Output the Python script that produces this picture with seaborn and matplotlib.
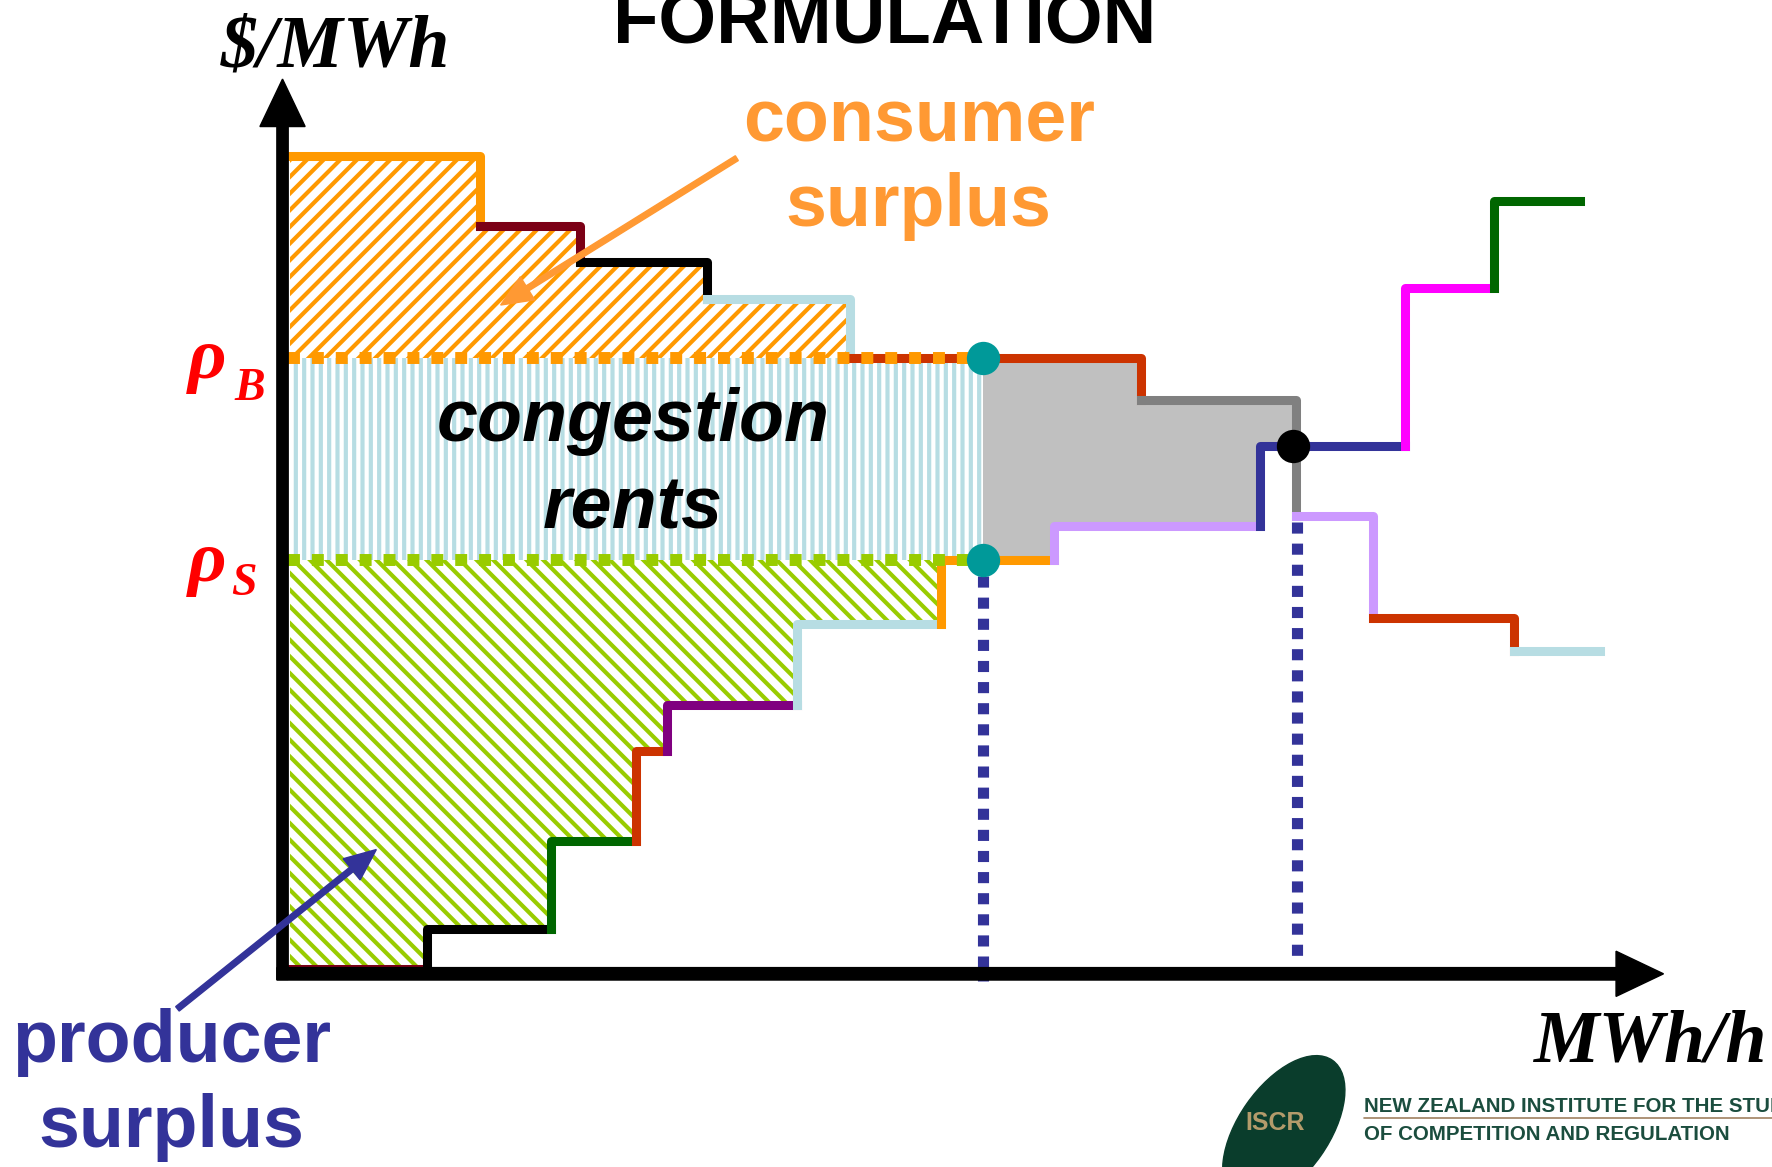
import numpy as np
import matplotlib.pyplot as plt
import seaborn as sns
from matplotlib.patches import Ellipse

sns.set_theme(style='white')
plt.rcParams['font.family'] = ['Liberation Sans', 'DejaVu Sans']
plt.rcParams['hatch.linewidth'] = 3.0

# bid stack (demand) and offer stack (supply), schematic units
demand_q = [7, 175, 263, 376, 502, 760, 897, 965, 1090, 1166]
demand_p = [724, 662, 630, 597, 545, 508, 405, 315, 286]
demand_colors = ['#FF9900', '#7B0016', 'black', '#B7DDE3', '#CC3300',
                 '#808080', '#CC99FF', '#CC3300', '#B7DDE3']

supply_q = [7, 128, 238, 313, 340, 455, 583, 683, 865, 993, 1072, 1148]
supply_p = [4, 40, 118, 197, 238, 310, 366, 396, 467, 607, 684]
supply_colors = ['#7B0016', 'black', '#006600', '#CC3300', '#800080', '#B7DDE3',
                 '#FF9900', '#CC99FF', '#333399', '#FF00FF', '#006600']

rho_b = 545      # buyer-side price
rho_s = 366      # seller-side price
q_flow = 620     # constrained quantity
q_eq = 897       # unconstrained equilibrium quantity
p_eq = 467       # unconstrained equilibrium price


def step_value(qs, ps, x):
    i = np.searchsorted(qs, x, side='right') - 1
    i = np.clip(i, 0, len(ps) - 1)
    return np.asarray(ps)[i]


fig = plt.figure(figsize=(17.72, 11.67), dpi=100)
ax = fig.add_axes([0, 0, 1, 1])
ax.set_xlim(-250, 1318)
ax.set_ylim(-171, 862)
ax.axis('off')

# consumer surplus (orange hatch)
xs = np.array([q for q in demand_q if q <= q_flow])
ys = np.maximum(step_value(demand_q, demand_p, xs), rho_b)
ax.fill_between(xs, ys, rho_b, step='post', facecolor='white',
                edgecolor='#FF9900', hatch='//', linewidth=0, zorder=1)

# congestion rents (vertical light blue hatch)
ax.fill_between([demand_q[0], q_flow], rho_s, rho_b, facecolor='white',
                edgecolor='#B7DDE3', hatch='||', linewidth=0, zorder=1)

# producer surplus (green hatch)
xs = np.array([q for q in supply_q if q <= q_flow] + [q_flow])
ys = np.minimum(step_value(supply_q, supply_p, xs), rho_s)
ax.fill_between(xs, ys, rho_s, step='post', facecolor='white',
                edgecolor='#99CC00', hatch='\\\\', linewidth=0, zorder=1)

# grey area between the curves
xs = np.array(sorted(set([q_flow, q_eq] + [q for q in demand_q + supply_q
                                            if q_flow < q < q_eq])))
ax.fill_between(xs, step_value(demand_q, demand_p, xs),
                step_value(supply_q, supply_p, xs),
                step='post', color='#C0C0C0', linewidth=0, zorder=1)

lw = 6.5
# demand steps
for i, c in enumerate(demand_colors):
    x = [demand_q[i], demand_q[i + 1]]
    y = [demand_p[i], demand_p[i]]
    if i + 1 < len(demand_p):
        x.append(demand_q[i + 1])
        y.append(demand_p[i + 1])
    sns.lineplot(x=x, y=y, sort=False, estimator=None, color=c, lw=lw, ax=ax,
                 solid_capstyle='projecting', zorder=3)

# supply steps
for i, c in enumerate(supply_colors):
    x = [supply_q[i], supply_q[i + 1]]
    y = [supply_p[i], supply_p[i]]
    if i > 0:
        x.insert(0, supply_q[i])
        y.insert(0, supply_p[i - 1])
    sns.lineplot(x=x, y=y, sort=False, estimator=None, color=c, lw=lw, ax=ax,
                 solid_capstyle='projecting', zorder=3)

# price lines
ax.plot([demand_q[0] - 2, q_flow], [rho_b, rho_b], color='#FF9900', lw=8.6,
        ls=(0, (1, 1)), dash_capstyle='butt', zorder=4)
ax.plot([demand_q[0] - 2, q_flow], [rho_s, rho_s], color='#99CC00', lw=8.6,
        ls=(0, (1, 1)), dash_capstyle='butt', zorder=4)

# quantity drop lines
ax.plot([q_flow, q_flow], [352, -6], color='#333399', lw=8,
        ls=(0, (1, 0.9)), dash_capstyle='butt', zorder=2)
ax.plot([q_eq + 1, q_eq + 1], [400, 12], color='#333399', lw=8,
        ls=(0, (1, 0.9)), dash_capstyle='butt', zorder=2)

# dots
sns.scatterplot(x=[q_flow, q_flow], y=[rho_b, rho_s], s=24 ** 2, color='#009999',
                linewidth=0, ax=ax, zorder=5)
sns.scatterplot(x=[q_eq - 3], y=[p_eq], s=24 ** 2, color='black',
                linewidth=0, ax=ax, zorder=5)

# axes with arrows
ax.arrow(0, -5, 0, 797, width=10, head_width=40, head_length=42,
         length_includes_head=True, color='black', zorder=6)
ax.arrow(-5, 0, 1227, 0, width=11, head_width=40, head_length=42,
         length_includes_head=True, color='black', zorder=6)

# annotation arrows
ax.arrow(402, 722, -209, -130, width=5, head_width=24, head_length=28,
         length_includes_head=True, color='#FF9933', zorder=6)
ax.arrow(-93, -31, 176, 141, width=5, head_width=24, head_length=28,
         length_includes_head=True, color='#333399', zorder=6)

serif = ['Liberation Serif', 'DejaVu Serif']
ax.text(533, 824, 'FORMULATION', ha='center', va='baseline', fontsize=53.5,
        fontweight='bold', color='black')
ax.text(-55, 803, '$/MWh', ha='left', va='baseline', fontsize=53,
        family=serif, fontweight='bold', style='italic', color='black')
ax.text(1107, -78, 'MWh/h', ha='left', va='baseline', fontsize=53,
        family=serif, fontweight='bold', style='italic', color='black')

ax.text(-84, 527, 'ρ', ha='left', va='baseline', fontsize=54, family=serif,
        fontweight='bold', style='italic', color='#FF0000')
ax.text(-43, 508, 'B', ha='left', va='baseline', fontsize=33, family=serif,
        fontweight='bold', style='italic', color='#FF0000')
ax.text(-84, 348, 'ρ', ha='left', va='baseline', fontsize=54, family=serif,
        fontweight='bold', style='italic', color='#FF0000')
ax.text(-45, 335, 'S', ha='left', va='baseline', fontsize=33, family=serif,
        fontweight='bold', style='italic', color='#FF0000')

ax.text(563, 737, 'consumer', ha='center', va='baseline', fontsize=53,
        fontweight='bold', color='#FF9933')
ax.text(563, 662, 'surplus', ha='center', va='baseline', fontsize=53,
        fontweight='bold', color='#FF9933')
ax.text(310, 472, 'congestion', ha='center', va='baseline', fontsize=53,
        fontweight='bold', style='italic', color='black', zorder=7)
ax.text(310, 394, 'rents', ha='center', va='baseline', fontsize=53,
        fontweight='bold', style='italic', color='black', zorder=7)
ax.text(-98, -78, 'producer', ha='center', va='baseline', fontsize=53,
        fontweight='bold', color='#333399')
ax.text(-98, -153, 'surplus', ha='center', va='baseline', fontsize=53,
        fontweight='bold', color='#333399')

# ISCR logo
ax.add_patch(Ellipse((886, -138), width=80, height=150, angle=-35,
                     color='#0A3D2C', zorder=6))
ax.text(878, -132, 'ISCR', ha='center', va='center', fontsize=18,
        fontweight='bold', color='#B39B6B', zorder=7)
ax.text(957, -122, 'NEW ZEALAND INSTITUTE FOR THE STUDY', ha='left',
        va='baseline', fontsize=14.8, fontweight='bold', color='#1B4D3E')
ax.plot([957, 1318], [-128, -128], color='#A08060', lw=1.2)
ax.text(957, -147, 'OF COMPETITION AND REGULATION', ha='left',
        va='baseline', fontsize=14.8, fontweight='bold', color='#1B4D3E')

fig.savefig('out.png', dpi=100)
